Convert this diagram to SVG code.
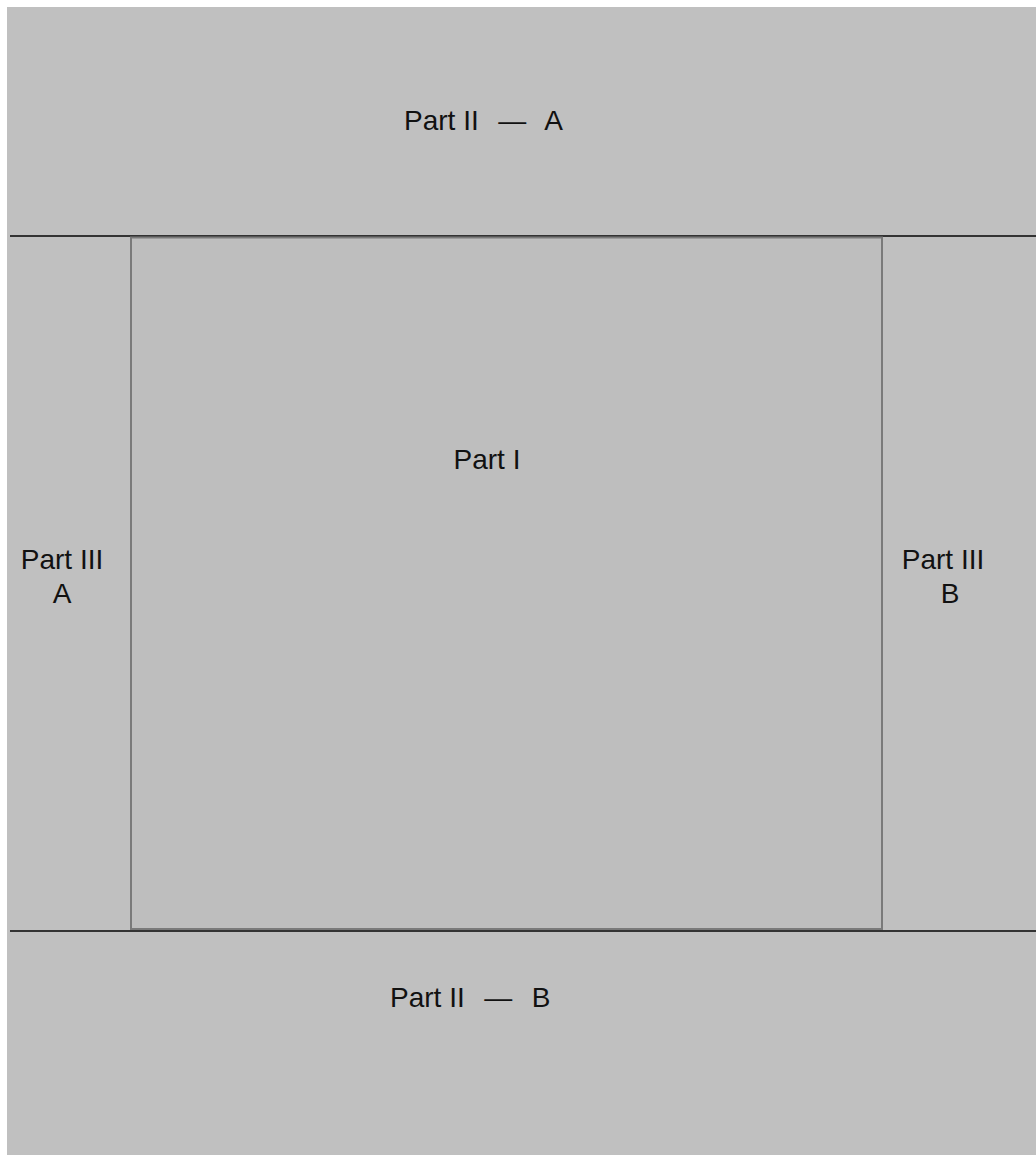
<svg xmlns="http://www.w3.org/2000/svg" width="1036" height="1155" viewBox="0 0 1036 1155">
<style>
text { font-family: "Liberation Sans", Arial, sans-serif; font-size: 28px; fill: #111; white-space: pre; }
.wide { word-spacing: 2px; }
.divider { stroke: #333; stroke-width: 2; fill: none; }
</style>
<rect x="0" y="0" width="1036" height="1155" fill="#ffffff"/>
<rect x="7" y="7" width="1029" height="1148" fill="#c0c0c0"/>
<g id="connectors">
<line class="divider" x1="10" y1="236" x2="1036" y2="236"/>
<line class="divider" x1="10" y1="931" x2="1036" y2="931"/>
</g>
<g id="part-ii-a">
<text x="404" y="130" xml:space="preserve">Part II<tspan class="wide">  —  A</tspan></text>
</g>
<g id="part-i">
<rect x="131" y="237.5" width="751" height="691.5" fill="#bebebe" stroke="#7a7a7a" stroke-width="2"/>
<text x="487" y="469" text-anchor="middle">Part I</text>
</g>
<g id="part-iii-a">
<text x="62" y="569" text-anchor="middle">Part III</text>
<text x="62" y="603" text-anchor="middle">A</text>
</g>
<g id="part-iii-b">
<text x="943" y="569" text-anchor="middle">Part III</text>
<text x="950" y="603" text-anchor="middle">B</text>
</g>
<g id="part-ii-b">
<text x="390" y="1007" xml:space="preserve">Part II<tspan class="wide">  —  B</tspan></text>
</g>
</svg>
